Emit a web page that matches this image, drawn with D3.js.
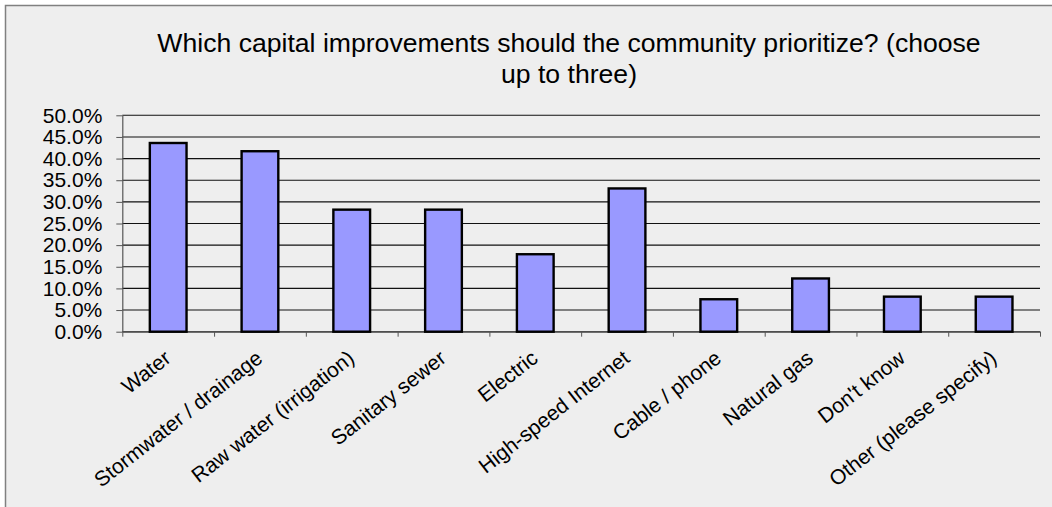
<!DOCTYPE html>
<html>
<head>
<meta charset="utf-8">
<script src="https://cdn.jsdelivr.net/npm/d3@7"></script>
<style>
  html, body { margin: 0; padding: 0; background: #ffffff; }
  svg { display: block; }
  text { font-family: "Liberation Sans", Arial, sans-serif; fill: #000; }
</style>
</head>
<body>
<svg id="chart" width="1052" height="507"></svg>
<script>
// Survey responses: share of respondents choosing each improvement
const categories = [
  "Water",
  "Stormwater / drainage",
  "Raw water (irrigation)",
  "Sanitary sewer",
  "Electric",
  "High-speed Internet",
  "Cable / phone",
  "Natural gas",
  "Don't know",
  "Other (please specify)"
];
const shares = [0.436, 0.417, 0.282, 0.282, 0.179, 0.331, 0.075, 0.123, 0.081, 0.081];
const yTickValues = [0, 0.05, 0.10, 0.15, 0.20, 0.25, 0.30, 0.35, 0.40, 0.45, 0.50];
const titleLines = [
  "Which capital improvements should the community prioritize? (choose",
  "up to three)"
];

const svg = d3.select("#chart");
const W = 1052, H = 507;

// chart area frame (extends past the right/bottom edges)
svg.append("rect")
  .attr("x", 5.5).attr("y", 5.5)
  .attr("width", W + 20).attr("height", H + 20)
  .attr("fill", "#eeeeee")
  .attr("stroke", "#808080")
  .attr("stroke-width", 1.5);

const plot = { left: 122.3, right: 1040, top: 115.3, bottom: 331.7 };

const x = d3.scaleBand()
  .domain(categories)
  .range([plot.left, plot.right])
  .paddingInner(0.6)
  .paddingOuter(0.3);

const xBounds = d3.scaleLinear()
  .domain([0, categories.length])
  .range([plot.left, plot.right]);

const y = d3.scaleLinear()
  .domain([0, 0.5])
  .range([plot.bottom, plot.top]);

// horizontal gridlines
svg.append("g")
  .selectAll("line")
  .data(yTickValues)
  .join("line")
  .attr("x1", plot.left).attr("x2", plot.right)
  .attr("y1", d => y(d)).attr("y2", d => y(d))
  .attr("stroke", "#111")
  .attr("stroke-width", 1.1);

// y axis
const yAxis = d3.axisLeft(y)
  .tickValues(yTickValues)
  .tickFormat(d3.format(".1%"))
  .tickSizeInner(6)
  .tickSizeOuter(0)
  .tickPadding(14);
const gy = svg.append("g")
  .attr("transform", `translate(${plot.left},0)`)
  .call(yAxis);
gy.select(".domain").attr("stroke", "#555").attr("stroke-width", 1.2);
gy.selectAll(".tick line").attr("stroke", "#555");
gy.selectAll(".tick text")
  .attr("font-size", 21)
  .attr("font-family", "Liberation Sans, Arial, sans-serif")
  .attr("fill", "#000");

// x axis baseline with tick marks at category boundaries
const xAxis = d3.axisBottom(xBounds)
  .tickValues(d3.range(categories.length + 1))
  .tickFormat("")
  .tickSizeInner(5)
  .tickSizeOuter(0);
const gx = svg.append("g")
  .attr("transform", `translate(0,${plot.bottom})`)
  .call(xAxis);
gx.select(".domain").attr("stroke", "#555").attr("stroke-width", 1.2);
gx.selectAll(".tick line").attr("stroke", "#555");

// bars
svg.append("g")
  .selectAll("rect")
  .data(categories)
  .join("rect")
  .attr("x", d => x(d))
  .attr("y", (d, i) => y(shares[i]))
  .attr("width", x.bandwidth())
  .attr("height", (d, i) => y(0) - y(shares[i]))
  .attr("fill", "#9999ff")
  .attr("stroke", "#000")
  .attr("stroke-width", 2.4);

// rotated category labels
const angle = -38;
svg.append("g")
  .selectAll("text")
  .data(categories)
  .join("text")
  .attr("transform", d => `translate(${x(d) + x.bandwidth() / 2 + 4},${plot.bottom + 29}) rotate(${angle})`)
  .attr("text-anchor", "end")
  .attr("font-size", 21)
  .text(d => d);

// title
svg.append("g")
  .selectAll("text")
  .data(titleLines)
  .join("text")
  .attr("x", 569)
  .attr("y", (d, i) => 51.7 + i * 31.6)
  .attr("text-anchor", "middle")
  .attr("font-size", 26.6)
  .text(d => d);
</script>
</body>
</html>
